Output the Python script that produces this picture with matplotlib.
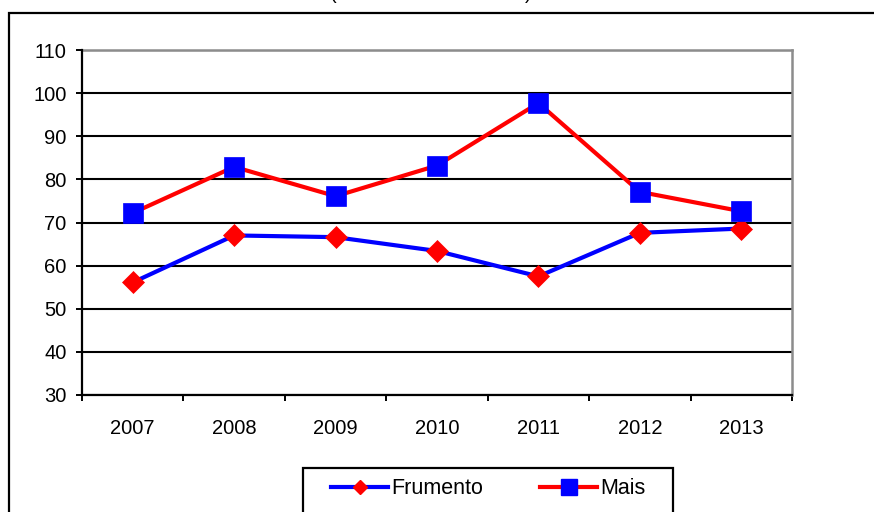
import matplotlib
matplotlib.use("Agg")
import matplotlib.pyplot as plt
from matplotlib.patches import Rectangle
from matplotlib.lines import Line2D
import numpy as np

# Data
years = ["2007", "2008", "2009", "2010", "2011", "2012", "2013"]
frumento = [56.1, 67.0, 66.6, 63.4, 57.5, 67.6, 68.6]
mais = [72.2, 82.9, 76.1, 83.2, 97.7, 77.1, 72.6]
y_ticks = [30, 40, 50, 60, 70, 80, 90, 100, 110]

plt.rcParams["font.family"] = ["Liberation Sans", "DejaVu Sans"]

W, H = 874, 512
fig = plt.figure(figsize=(W / 100, H / 100), dpi=100)

def fx(px):
    return px / W

def fy(py):
    return 1 - py / H

# Outer chart frame (extends past the right and bottom edges)
fig.patches.append(Rectangle((fx(9), -0.1), 1.2, fy(13) + 0.1,
                             transform=fig.transFigure, fill=False,
                             edgecolor="black", linewidth=1.6, zorder=0))

# Partially visible heading
fig.text(fx(333), fy(3), "(", fontsize=14.5, ha="center", va="bottom")
fig.text(fx(528), fy(3), ")", fontsize=14.5, ha="center", va="bottom")

ax = fig.add_axes([fx(82), fy(395), fx(792) - fx(82), fy(50) - fy(395)])
x = np.arange(len(years))

ax.plot(x, frumento, color="#0000FF", linewidth=3.0, marker="D",
        markersize=11, markerfacecolor="#FF0000", markeredgecolor="#FF0000",
        markeredgewidth=0.5, zorder=3, label="Frumento")
ax.plot(x, mais, color="#FF0000", linewidth=3.0, marker="s",
        markersize=14.5, markerfacecolor="#0000FF", markeredgecolor="#0000FF",
        markeredgewidth=0.5, zorder=4, label="Mais")

ax.set_xlim(-0.5, len(years) - 0.5)
ax.set_ylim(y_ticks[0], y_ticks[-1])
ax.set_yticks(y_ticks)
ax.set_yticklabels([str(v) for v in y_ticks])
ax.set_xticks(x)
ax.set_xticklabels(years)
ax.set_xticks(np.arange(-0.5, len(years)), minor=True)

ax.tick_params(axis="x", which="major", length=0, pad=17, labelsize=14.5)
ax.tick_params(axis="x", which="minor", length=4, width=1.4, direction="out")
ax.tick_params(axis="y", which="major", length=4, width=1.4, direction="out",
               pad=7, labelsize=14.5)

ax.grid(axis="y", color="black", linewidth=1.5, zorder=1)
ax.set_axisbelow(True)

for side in ("left", "bottom"):
    ax.spines[side].set_color("black")
    ax.spines[side].set_linewidth(1.6)
    ax.spines[side].set_zorder(5)
for side in ("top", "right"):
    ax.spines[side].set_color("#8C8C8C")
    ax.spines[side].set_linewidth(1.8)

# Legend box at the bottom (runs past the lower edge)
fig.patches.append(Rectangle((fx(303), fy(520)), fx(673) - fx(303), fy(468) - fy(520),
                             transform=fig.transFigure, fill=False,
                             edgecolor="black", linewidth=1.6, zorder=2))
handles = [
    Line2D([], [], color="#0000FF", linewidth=3.0, marker="D", markersize=7,
           markerfacecolor="#FF0000", markeredgecolor="#FF0000"),
    Line2D([], [], color="#FF0000", linewidth=3.0, marker="s", markersize=11.5,
           markerfacecolor="#0000FF", markeredgecolor="#0000FF"),
]
fig.legend(handles, ["Frumento", "Mais"], loc="center left",
           bbox_to_anchor=(fx(331), fy(489)), ncol=2, frameon=False,
           borderpad=0, borderaxespad=0, handlelength=2.65, handletextpad=0.15,
           columnspacing=2.65, fontsize=15.5)

fig.savefig("out.png", dpi=100)
